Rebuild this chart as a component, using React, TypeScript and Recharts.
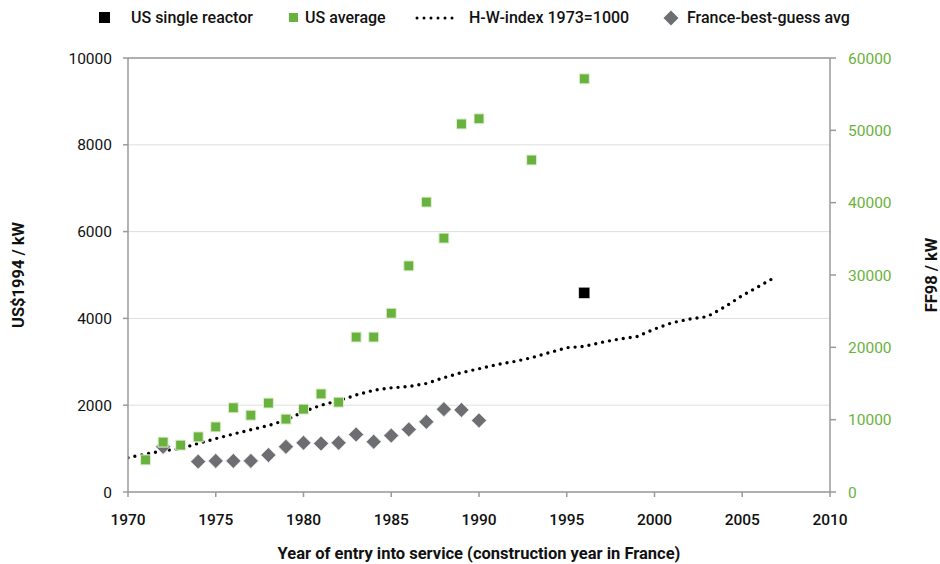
import React from "react";
import {
  ComposedChart,
  Line,
  Scatter,
  XAxis,
  YAxis,
  CartesianGrid,
  ReferenceLine,
  Legend
} from "recharts";

const FONT = 'Roboto, "Liberation Sans", sans-serif';
const GREEN = "#6ab23e";
const GREY = "#6d6e71";
const AXIS = "#9a9a9a";

// US single reactor (US$1994 / kW)
const singleYears = [1996];
const singleCost = [4590];

// US average (US$1994 / kW)
const usAvgYears = [1971, 1972, 1973, 1974, 1975, 1976, 1977, 1978, 1979, 1980, 1981, 1982, 1983, 1984, 1985, 1986, 1987, 1988, 1989, 1990, 1993, 1996];
const usAvgCost = [740, 1150, 1080, 1270, 1500, 1940, 1770, 2050, 1680, 1910, 2260, 2070, 3570, 3570, 4120, 5210, 6680, 5850, 8480, 8600, 7650, 9520];

// H-W index, 1973 = 1000
const hwYears = [1970, 1971, 1972, 1973, 1974, 1975, 1976, 1977, 1978, 1979, 1980, 1981, 1982, 1983, 1984, 1985, 1986, 1987, 1988, 1989, 1990, 1991, 1992, 1993, 1994, 1995, 1996, 1997, 1998, 1999, 2000, 2001, 2002, 2003, 2004, 2005, 2006, 2006.7];
const hwIndex = [790, 875, 950, 1000, 1120, 1230, 1335, 1435, 1530, 1660, 1850, 2000, 2105, 2235, 2345, 2400, 2430, 2500, 2635, 2750, 2840, 2935, 3005, 3095, 3210, 3325, 3355, 3450, 3525, 3580, 3755, 3900, 3985, 4040, 4265, 4525, 4750, 4910];

// France best-guess average (FF98 / kW)
const franceYears = [1972, 1974, 1975, 1976, 1977, 1978, 1979, 1980, 1981, 1982, 1983, 1984, 1985, 1986, 1987, 1988, 1989, 1990];
const franceCost = [6250, 4200, 4300, 4300, 4300, 5100, 6250, 6800, 6700, 6800, 7950, 6950, 7800, 8650, 9700, 11450, 11350, 9900];

const xTicks = [1970, 1975, 1980, 1985, 1990, 1995, 2000, 2005, 2010];
const leftTicks = [0, 2000, 4000, 6000, 8000, 10000];
const rightTicks = [0, 10000, 20000, 30000, 40000, 50000, 60000];

const toPoints = (xs: number[], ys: number[]) => xs.map((year, i) => ({ year, value: ys[i] }));

const singleData = toPoints(singleYears, singleCost);
const usAvgData = toPoints(usAvgYears, usAvgCost);
const hwData = toPoints(hwYears, hwIndex);
const franceData = toPoints(franceYears, franceCost);

const GreenSquare = (p: any) => (
  <rect x={p.cx - 5} y={p.cy - 5} width={10} height={10} fill={GREEN} stroke="#e3f0da" strokeWidth={1} />
);

const BlackSquare = (p: any) => (
  <rect x={p.cx - 5.5} y={p.cy - 5.5} width={11} height={11} fill="#000" stroke="#ddd" strokeWidth={0.5} />
);

const Diamond = (p: any) => (
  <path
    d={`M${p.cx},${p.cy - 7.5} L${p.cx + 7.5},${p.cy} L${p.cx},${p.cy + 7.5} L${p.cx - 7.5},${p.cy} Z`}
    fill={GREY}
    stroke="#e5e5e5"
    strokeWidth={0.8}
  />
);

const legendText: React.CSSProperties = {
  position: "absolute",
  top: 8,
  fontSize: 16,
  fontWeight: 500,
  color: "#111",
  whiteSpace: "nowrap",
  lineHeight: "20px"
};

const ChartLegend = () => (
  <div style={{ position: "relative", width: 940, height: 36, fontFamily: FONT }}>
    <div style={{ position: "absolute", left: 99, top: 12, width: 11, height: 11, background: "#000" }} />
    <div style={{ ...legendText, left: 131 }}>US single reactor</div>
    <div style={{ position: "absolute", left: 289, top: 13, width: 9, height: 9, background: GREEN }} />
    <div style={{ ...legendText, left: 305 }}>US average</div>
    <svg style={{ position: "absolute", left: 414, top: 12 }} width={46} height={12}>
      <line x1={3} y1={6} x2={44} y2={6} stroke="#000" strokeWidth={3} strokeDasharray="0 7" strokeLinecap="round" />
    </svg>
    <div style={{ ...legendText, left: 469 }}>H-W-index 1973=1000</div>
    <svg style={{ position: "absolute", left: 663, top: 10 }} width={16} height={16}>
      <path d="M8,0.5 L15.5,8 L8,15.5 L0.5,8 Z" fill={GREY} />
    </svg>
    <div style={{ ...legendText, left: 687 }}>France-best-guess avg</div>
  </div>
);

export default function App() {
  return (
    <div style={{ position: "absolute", left: 0, top: 0, fontFamily: FONT }}>
      <ComposedChart
        width={940}
        height={564}
        margin={{ top: 58, right: 5, bottom: 0, left: 10 }}
      >
        <CartesianGrid yAxisId="left" vertical={false} stroke="#dedede" strokeWidth={1} />
        <XAxis
          xAxisId="x"
          type="number"
          dataKey="year"
          domain={[1970, 2010]}
          ticks={xTicks}
          allowDataOverflow
          height={72}
          stroke={AXIS}
          strokeWidth={1.5}
          tickSize={5}
          tickMargin={17}
          tick={{ fill: "#111", fontSize: 15.5, fontWeight: 500, fontFamily: FONT }}
          label={{
            value: "Year of entry into service (construction year in France)",
            position: "insideBottom",
            offset: 5,
            style: { fill: "#111", fontSize: 16.5, fontWeight: "bold", fontFamily: FONT }
          }}
        />
        <YAxis
          yAxisId="left"
          orientation="left"
          domain={[0, 10000]}
          ticks={leftTicks}
          width={118}
          stroke={AXIS}
          strokeWidth={1.5}
          tickSize={5}
          tickMargin={11}
          tick={{ fill: "#111", fontSize: 15.5, fontFamily: FONT }}
          label={{
            value: "US$1994 / kW",
            angle: -90,
            position: "insideLeft",
            offset: 8,
            style: { textAnchor: "middle", fill: "#111", fontSize: 16.5, fontWeight: "bold", fontFamily: FONT }
          }}
        />
        <YAxis
          yAxisId="right"
          orientation="right"
          domain={[0, 60000]}
          ticks={rightTicks}
          width={105}
          stroke={AXIS}
          strokeWidth={1.5}
          tickSize={6}
          tickMargin={12}
          tick={{ fill: GREEN, fontSize: 15.5, fontFamily: FONT }}
          label={{
            value: "FF98 / kW",
            angle: -90,
            position: "insideRight",
            offset: 4,
            style: { textAnchor: "middle", fill: "#111", fontSize: 16.5, fontWeight: "bold", fontFamily: FONT }
          }}
        />
        <ReferenceLine xAxisId="x" yAxisId="left" y={10000} stroke={AXIS} strokeWidth={1.5} />
        <Legend
          layout="horizontal"
          verticalAlign="middle"
          align="center"
          wrapperStyle={{ top: 0, left: 0, width: 940 }}
          content={() => <ChartLegend />}
        />
        <Line
          xAxisId="x"
          yAxisId="left"
          data={hwData}
          dataKey="value"
          name="H-W-index 1973=1000"
          type="linear"
          stroke="#000"
          strokeWidth={3.4}
          strokeDasharray="0 7"
          strokeLinecap="round"
          dot={false}
          activeDot={false}
          isAnimationActive={false}
        />
        <Scatter
          xAxisId="x"
          yAxisId="right"
          data={franceData}
          dataKey="value"
          name="France-best-guess avg"
          shape={Diamond}
          isAnimationActive={false}
        />
        <Scatter
          xAxisId="x"
          yAxisId="left"
          data={usAvgData}
          dataKey="value"
          name="US average"
          shape={GreenSquare}
          isAnimationActive={false}
        />
        <Scatter
          xAxisId="x"
          yAxisId="left"
          data={singleData}
          dataKey="value"
          name="US single reactor"
          shape={BlackSquare}
          isAnimationActive={false}
        />
      </ComposedChart>
    </div>
  );
}
